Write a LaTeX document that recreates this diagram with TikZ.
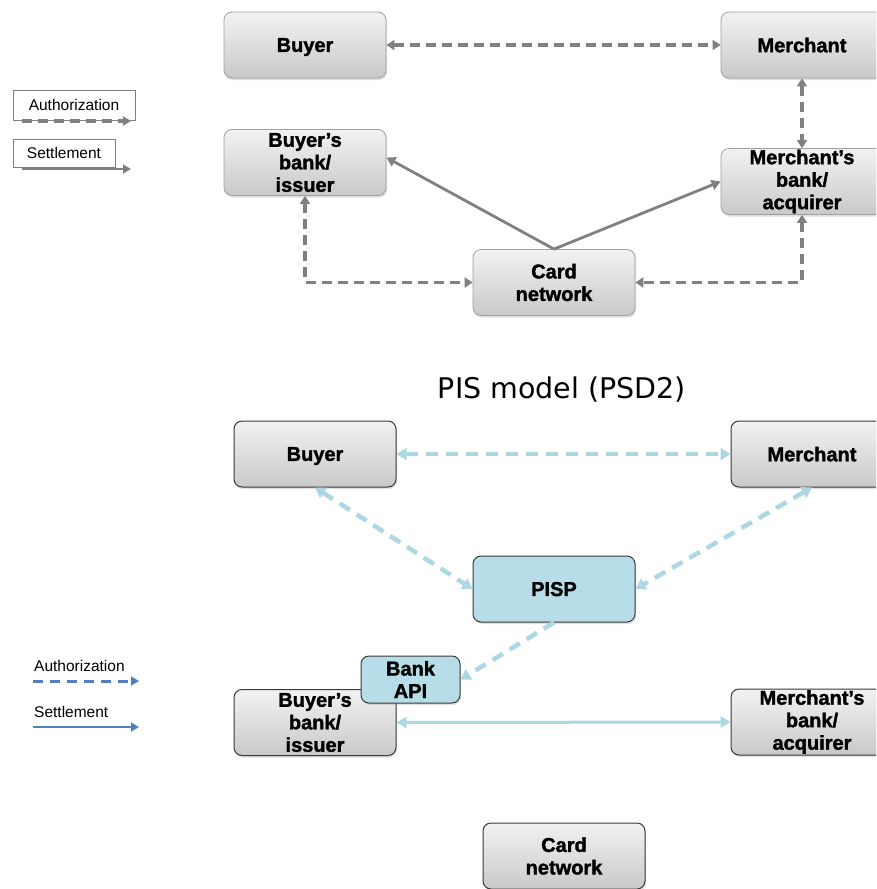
\documentclass[tikz,border=0pt]{standalone}
\usepackage{fontspec}
\setmainfont{Liberation Sans}
\newfontfamily\titlefont{DejaVu Sans}
\newfontfamily\heavyfont[RawFeature={embolden=1.6}]{Liberation Sans Bold}
\newcommand{\nodepth}[1]{\raisebox{0pt}[\height][0pt]{#1}}
\usetikzlibrary{arrows.meta,shadows}
\definecolor{gline}{HTML}{808080}
\definecolor{gborder}{HTML}{A0A0A0}
\definecolor{dborder}{HTML}{3A3A3A}
\definecolor{boxtop}{HTML}{F2F2F2}
\definecolor{boxbot}{HTML}{C9C9C9}
\definecolor{aqua}{HTML}{B7DEE8}
\definecolor{aqualine}{HTML}{ADD8E3}
\definecolor{legblue}{HTML}{4F81BD}
\tikzset{
  box/.style={rectangle, rounded corners=8pt, minimum width=162pt, minimum height=66pt,
    inner sep=0pt, align=center, top color=boxtop, bottom color=boxbot,
    font=\heavyfont\fontsize{20}{22.5}\selectfont,
    drop shadow={shadow xshift=1pt, shadow yshift=-2pt, opacity=0.25}},
  topbox/.style={box, draw=gborder, line width=0.8pt},
  botbox/.style={box, draw=dborder, line width=1pt},
  aquabox/.style={botbox, top color=aqua, bottom color=aqua},
  gauth/.style={draw=gline, line width=3.3pt, dash pattern=on 10pt off 6pt,
    {Triangle[length=8pt,width=10pt]}-{Triangle[length=8pt,width=10pt]}},
  gsettle/.style={draw=gline, line width=2.8pt, -{Triangle[length=9pt,width=10pt]}},
  aauth/.style={draw=aqualine, line width=4.5pt, dash pattern=on 12pt off 8pt,
    {Triangle[length=10pt,width=12pt]}-{Triangle[length=10pt,width=12pt]}},
  asettle/.style={draw=aqualine, line width=3pt,
    {Triangle[length=10pt,width=11pt]}-{Triangle[length=10pt,width=11pt]}},
  legbox/.style={rectangle, draw=gline, line width=0.8pt, inner sep=0pt, fill=white,
    font=\fontsize{15.5}{18}\selectfont},
  legtext/.style={inner sep=0pt, anchor=west, font=\fontsize{15.5}{18}\selectfont}
}
\begin{document}
\begin{tikzpicture}[x=1pt,y=-1pt]
\useasboundingbox (0,0) rectangle (876,889);
\clip (0,0) rectangle (876,889);

% ---------- top diagram ----------
\node[topbox] (buyer) at (305,45) {\nodepth{Buyer}};
\node[topbox] (merchant) at (802,45) {\nodepth{Merchant}};
\node[topbox] (bbank) at (305,162.5) {Buyer’s\\bank/\\issuer};
\node[topbox] (mbank) at (802,181.5) {Merchant’s\\bank/\\acquirer};
\node[topbox] (card) at (554,282.5) {Card\\network};

\draw[gauth] (buyer.east) -- (merchant.west);
\draw[gauth] (merchant.south) -- (mbank.north);
\draw[gauth] (bbank.south) |- (card.west);
\draw[gauth] (mbank.south) |- (card.east);
\draw[gsettle] (card.north) -- ([yshift=5pt]bbank.east);
\draw[gsettle] (card.north) -- (mbank.west);

% top legend
\node[legbox, minimum width=122pt, minimum height=30pt] (lauth) at (74,105) {Authorization};
\node[legbox, minimum width=102pt, minimum height=28pt] (lsett) at (64,153) {Settlement};
\coordinate (la1) at (22,121);
\coordinate (la2) at (131,121);
\coordinate (ls1) at (22,169);
\coordinate (ls2) at (131,169);
\draw[draw=gline, line width=3.3pt, dash pattern=on 10pt off 6pt, -{Triangle[length=8pt,width=9pt]}] (la1) -- (la2);
\draw[draw=gline, line width=2.8pt, -{Triangle[length=8pt,width=9pt]}] (ls1) -- (ls2);

% ---------- title ----------
\node[inner sep=0pt, font=\titlefont\fontsize{28.5}{32}\selectfont] (title) at (562,390) {PIS model (PSD2)};

% ---------- bottom diagram ----------
\node[botbox] (buyer2) at (315,454) {\nodepth{Buyer}};
\node[botbox] (merchant2) at (812,454) {\nodepth{Merchant}};
\node[aquabox] (pisp) at (554,589) {\nodepth{PISP}};
\node[botbox] (bbank2) at (315,722.5) {Buyer’s\\bank/\\issuer};
\node[aquabox, minimum width=99pt, minimum height=47pt] (bankapi) at (410.5,679.5) {Bank\\API};
\node[botbox] (mbank2) at (812,722) {Merchant’s\\bank/\\acquirer};
\node[botbox] (card2) at (564,856) {Card\\network};

\draw[aauth] (buyer2.east) -- (merchant2.west);
\draw[aauth] (buyer2.south) -- (pisp.west);
\draw[aauth] (merchant2.south) -- (pisp.east);
\draw[draw=aqualine, line width=4.5pt, dash pattern=on 12pt off 8pt, -{Triangle[length=10pt,width=12pt]}] (pisp.south) -- (bankapi.east);
\draw[asettle] (bbank2.east) -- (mbank2.west);

% bottom legend
\node[legtext] (lauth2) at (34,666) {Authorization};
\node[legtext] (lsett2) at (34,712) {Settlement};
\coordinate (lb1) at (33,681);
\coordinate (lb2) at (139,681);
\coordinate (lc1) at (33,727);
\coordinate (lc2) at (139,727);
\draw[draw=legblue, line width=3pt, dash pattern=on 10pt off 7pt, -{Triangle[length=8pt,width=9pt]}] (lb1) -- (lb2);
\draw[draw=legblue, line width=2.5pt, -{Triangle[length=8pt,width=9pt]}] (lc1) -- (lc2);
\end{tikzpicture}
\end{document}
